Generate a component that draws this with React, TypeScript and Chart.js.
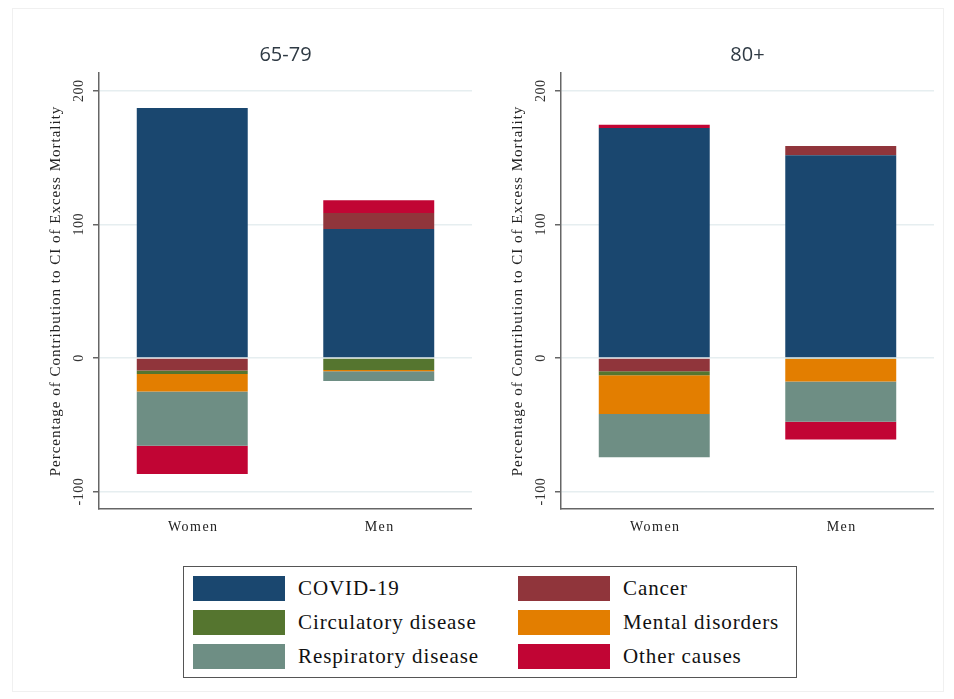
import React, { useEffect, useRef } from "react";
import { Chart, registerables } from "chart.js";

Chart.register(...registerables);

const categories = ["Women", "Men"];
const causes = [
  "COVID-19",
  "Cancer",
  "Circulatory disease",
  "Mental disorders",
  "Respiratory disease",
  "Other causes",
];
const causeColors = ["#1a476f", "#90353b", "#55752f", "#e37e00", "#6e8e84", "#c10534"];
const panelTitles = ["65-79", "80+"];
const yTickValues = [-100, 0, 100, 200];
const yAxisTitle = "Percentage of Contribution to CI of Excess Mortality";

// 65-79 : [Women, Men]
const covid6579 = [187, 96.5];
const cancer6579 = [-9.3, 12];
const circulatory6579 = [-2.7, -9];
const mental6579 = [-13, -1];
const respiratory6579 = [-40.7, -7.2];
const other6579 = [-21.2, 9.5];

// 80+ : [Women, Men]
const covid80 = [172, 151.6];
const cancer80 = [-10, 7];
const circulatory80 = [-3, -0.7];
const mental80 = [-29, -17];
const respiratory80 = [-32.2, -30];
const other80 = [2.5, -13.3];

const panelSeries = [
  [covid6579, cancer6579, circulatory6579, mental6579, respiratory6579, other6579],
  [covid80, cancer80, circulatory80, mental80, respiratory80, other80],
];

const SERIF = "'Liberation Serif', 'DejaVu Serif', serif";
const SANS = "'Open Sans', 'Noto Sans', sans-serif";

function makeTextPlugin(title: string) {
  return {
    id: "panelText",
    afterDraw(chart: any) {
      const { ctx, chartArea, scales } = chart;
      const y = scales.y;
      const x = scales.x;
      ctx.save();
      ctx.textAlign = "center";
      ctx.textBaseline = "middle";

      // panel title
      ctx.fillStyle = "#2f3a44";
      ctx.font = `20px ${SANS}`;
      ctx.fillText(title, (chartArea.left + chartArea.right) / 2, 55);

      // y tick labels (rotated)
      ctx.fillStyle = "#333333";
      ctx.font = `14px ${SERIF}`;
      (ctx as any).letterSpacing = "0.5px";
      yTickValues.forEach((v) => {
        const py = y.getPixelForValue(v);
        ctx.save();
        ctx.translate(chartArea.left - 20, py);
        ctx.rotate(-Math.PI / 2);
        ctx.fillText(String(v), 0, 0);
        ctx.restore();
      });

      // y axis title
      ctx.save();
      ctx.font = `15px ${SERIF}`;
      (ctx as any).letterSpacing = "1px";
      ctx.fillStyle = "#222222";
      ctx.translate(chartArea.left - 43, (chartArea.top + chartArea.bottom) / 2);
      ctx.rotate(-Math.PI / 2);
      ctx.fillText(yAxisTitle, 0, 0);
      ctx.restore();

      // x category labels
      ctx.font = `14px ${SERIF}`;
      (ctx as any).letterSpacing = "1.5px";
      ctx.fillStyle = "#222222";
      categories.forEach((c, i) => {
        ctx.fillText(c, x.getPixelForValue(i) + 1, chartArea.bottom + 18);
      });
      ctx.restore();
    },
  };
}

function Panel({ index, left }: { index: number; left: number }) {
  const ref = useRef<HTMLCanvasElement | null>(null);
  useEffect(() => {
    if (!ref.current) return;
    const series = panelSeries[index];
    const chart = new Chart(ref.current, {
      type: "bar",
      data: {
        labels: categories,
        datasets: causes.map((c, i) => ({
          label: c,
          data: series[i],
          backgroundColor: causeColors[i],
          borderWidth: 0,
          categoryPercentage: 1,
          barPercentage: 0.595,
          stack: "s",
        })),
      },
      options: {
        responsive: false,
        animation: false,
        layout: { padding: { left: 0, right: 0, top: 73, bottom: 0 } },
        plugins: {
          legend: { display: false },
          tooltip: { enabled: false },
          title: { display: false },
        },
        scales: {
          x: {
            stacked: true,
            grid: { display: true, drawOnChartArea: false, drawTicks: false },
            border: { display: true, color: "#666666", width: 1.5 },
            ticks: { display: false },
            afterFit: (s: any) => {
              s.height = 36;
            },
          },
          y: {
            stacked: true,
            min: -113,
            max: 213.2,
            afterBuildTicks: (s: any) => {
              s.ticks = yTickValues.map((v) => ({ value: v }));
            },
            grid: {
              color: "#e6eef0",
              lineWidth: 1.5,
              tickColor: "#666666",
              tickLength: 6,
              drawTicks: true,
            },
            border: { display: true, color: "#666666", width: 1.5 },
            ticks: { display: false },
            afterFit: (s: any) => {
              s.width = 98;
            },
          },
        },
      },
      plugins: [makeTextPlugin(panelTitles[index])],
    });
    return () => chart.destroy();
  }, [index]);
  return (
    <canvas
      ref={ref}
      width={471}
      height={545}
      style={{ position: "absolute", left, top: 0, width: 471, height: 545 }}
    />
  );
}

const legendRows = [
  [0, 1],
  [2, 3],
  [4, 5],
];

export default function App() {
  return (
    <div
      style={{
        position: "fixed",
        left: 0,
        top: 0,
        width: 954,
        height: 699,
        background: "#ffffff",
        overflow: "hidden",
      }}
    >
      <div
        style={{
          position: "absolute",
          left: 12,
          top: 8,
          width: 930,
          height: 682,
          border: "1px solid #f0f0f0",
        }}
      />
      <Panel index={0} left={1} />
      <Panel index={1} left={463} />
      <div
        style={{
          position: "absolute",
          left: 183,
          top: 566,
          width: 612,
          height: 110,
          border: "1px solid #555555",
          background: "#ffffff",
        }}
      >
        {legendRows.map((row, r) =>
          row.map((ci, c) => (
            <React.Fragment key={ci}>
              <div
                style={{
                  position: "absolute",
                  left: c === 0 ? 9 : 334,
                  top: 9 + r * 34,
                  width: 92,
                  height: 25,
                  background: causeColors[ci],
                }}
              />
              <div
                style={{
                  position: "absolute",
                  left: c === 0 ? 114 : 439,
                  top: 9 + r * 34,
                  height: 25,
                  lineHeight: "25px",
                  fontFamily: SERIF,
                  fontSize: 21,
                  letterSpacing: "0.9px",
                  color: "#111111",
                  whiteSpace: "nowrap",
                }}
              >
                {causes[ci]}
              </div>
            </React.Fragment>
          ))
        )}
      </div>
    </div>
  );
}
